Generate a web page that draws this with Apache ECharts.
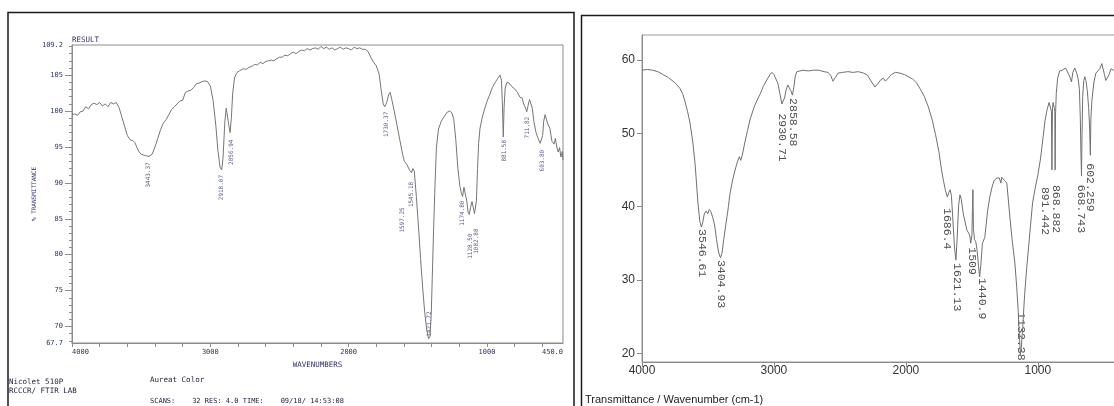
<!DOCTYPE html>
<html><head><meta charset="utf-8">
<script src="https://cdn.jsdelivr.net/npm/echarts@6/dist/echarts.min.js"></script>
<style>html,body{margin:0;padding:0;background:#fff}#c{width:1114px;height:406px}</style>
</head><body><div id="c"></div><script>
// ---------- LEFT SPECTRUM (Nicolet 510P) ----------
const leftWn = [4000,3980,3960,3940,3920,3900,3880,3860,3840,3820,3800,3780,3760,3740,3720,3700,3680,3660,3640,3620,3600,3580,3560,3545,3530,3515,3500,3470,3443,3420,3400,3380,3360,3340,3320,3300,3280,3260,3240,3220,3200,3180,3160,3140,3120,3100,3080,3060,3040,3020,3000,2980,2960,2945,2930,2918,2908,2895,2885,2875,2866,2857,2848,2838,2825,2810,2790,2760,2740,2720,2700,2680,2660,2640,2620,2600,2580,2560,2540,2520,2500,2480,2460,2440,2420,2400,2380,2360,2340,2320,2300,2280,2260,2240,2220,2200,2180,2160,2140,2120,2100,2080,2060,2040,2020,2000,1980,1960,1940,1920,1900,1880,1860,1840,1820,1800,1780,1765,1750,1738,1725,1710,1700,1690,1670,1650,1630,1610,1597,1580,1560,1545,1535,1525,1510,1495,1480,1465,1450,1435,1422,1412,1403,1395,1385,1375,1365,1350,1330,1310,1290,1270,1255,1240,1225,1210,1195,1185,1176,1166,1156,1146,1136,1128,1118,1108,1098,1090,1083,1076,1068,1060,1050,1035,1020,1000,980,960,940,920,905,895,888,882,876,868,855,840,820,800,780,760,745,735,725,712,702,692,682,672,660,645,630,615,604,597,590,580,570,560,545,530,515,505,495,485,475,465,455,450];
const leftT  = [99.5,99.6,99.4,99.9,100.0,100.6,100.3,100.9,101.1,100.9,101.2,100.7,101.0,100.6,101.2,101.0,101.2,100.5,99.2,97.9,96.6,96.0,95.9,95.6,94.9,94.3,94.0,93.8,93.7,94.0,95.0,96.2,97.4,98.3,98.8,99.5,100.2,100.6,101.0,101.4,101.5,102.6,102.8,102.9,103.3,103.8,103.9,104.1,104.2,104.1,103.5,101.5,98.0,94.5,92.2,91.8,93.5,98.5,100.4,100.3,98.0,97.0,99.0,102.5,104.6,105.3,105.6,105.9,105.8,106.1,106.2,106.5,106.4,106.8,106.6,106.9,107.0,107.1,107.0,107.3,107.5,107.5,107.8,107.7,108.0,108.2,108.0,108.3,108.5,108.4,108.7,108.5,108.7,108.8,108.6,109.0,108.7,108.9,108.6,108.8,108.5,108.7,108.9,108.6,108.8,108.7,108.5,108.9,108.7,108.8,108.6,108.6,108.3,107.5,106.8,106.3,105.2,103.0,101.0,100.6,101.2,102.3,102.6,101.8,100.0,98.0,96.0,94.0,93.0,92.6,91.8,91.4,92.0,91.6,88.0,84.0,79.5,75.5,72.0,69.5,68.3,68.6,71.5,77.0,84.0,90.0,95.0,97.5,98.6,99.2,99.8,100.0,99.8,98.9,96.0,92.0,89.5,88.6,88.1,89.4,89.6,87.5,85.9,85.6,86.6,87.4,86.5,85.7,85.6,87.5,92.0,95.5,97.6,99.0,100.1,101.3,102.3,103.3,104.0,104.6,105.0,104.3,101.0,96.4,100.5,103.2,104.0,103.9,103.4,103.1,102.6,101.9,101.8,101.0,100.6,99.9,100.8,101.6,101.6,100.4,98.5,97.0,96.2,95.5,95.3,96.6,98.5,99.5,99.3,98.2,97.6,95.8,95.4,96.2,95.0,94.3,94.9,93.6,94.4,93.2];
const leftPeakWn  = [3443.37,2918.07,2856.94,1730.37,1597.25,1545.18,1421.72,1174.80,1128.50,1082.88,881.58,711.82,603.80];
const leftPeakT   = [93.7,91.8,97.0,100.6,93.0,91.4,68.3,88.1,85.6,85.6,96.4,99.9,95.3];
const leftPeakText= ['3443.37','2918.07','2856.94','1730.37','1597.25','1545.18','1421.72','1174.80','1128.50','1082.88','881.58','711.82','603.80'];
const leftXTickVals = [4000,3800,3600,3400,3200,3000,2800,2600,2400,2200,2000,1800,1600,1400,1200,1000,800,600];
const leftXLabelVals = [4000,3000,2000,1000,450];
const leftYLabelVals = [67.7,70,75,80,85,90,95,100,105,109.2];
const leftYMinorVals = [68,69,70,71,72,73,74,75,76,77,78,79,80,81,82,83,84,85,86,87,88,89,90,91,92,93,94,95,96,97,98,99,100,101,102,103,104,105,106,107,108,109];

// ---------- RIGHT SPECTRUM ----------
const rightWn = [4000,3960,3920,3880,3840,3800,3765,3740,3712,3690,3674,3655,3636,3615,3598,3587,3576,3562,3550,3540,3528,3515,3502,3490,3478,3465,3450,3435,3420,3405,3394,3380,3365,3356,3345,3333,3310,3290,3275,3262,3252,3240,3220,3200,3182,3150,3120,3106,3080,3050,3030,3015,3000,2985,2970,2955,2940,2931,2920,2908,2895,2885,2872,2860,2850,2838,2826,2780,2740,2700,2660,2620,2590,2570,2553,2535,2515,2480,2440,2400,2360,2320,2290,2260,2235,2215,2190,2170,2155,2140,2110,2080,2045,2010,1980,1950,1920,1890,1860,1830,1800,1775,1750,1730,1715,1700,1686,1675,1665,1655,1645,1632,1621,1612,1600,1590,1580,1565,1550,1538,1525,1515,1509,1500,1495,1492,1488,1480,1470,1460,1450,1441,1432,1420,1402,1380,1364,1345,1330,1310,1292,1280,1273,1255,1235,1212,1195,1174,1160,1148,1140,1132,1125,1115,1100,1085,1070,1055,1040,1020,1000,980,960,945,930,915,905,897,893,889,884,876,871,869,866,860,850,835,815,800,790,775,760,745,735,720,705,695,685,678,673,669,665,660,652,644,636,625,615,608,602,598,590,575,560,545,530,515,505,495,485,472,460,445,432,420,400];
const rightT  = [58.6,58.7,58.6,58.4,58.0,57.6,57.1,56.7,56.1,55.3,54.3,53.0,51.4,48.8,45.9,43.2,40.5,38.0,37.2,37.8,39.0,39.4,39.0,39.6,39.3,38.6,37.5,35.5,33.8,33.0,33.6,35.6,37.5,38.6,40.0,41.8,43.9,45.3,46.2,46.8,46.3,47.0,48.8,50.4,51.8,53.6,54.8,55.3,56.4,57.4,58.0,58.3,58.0,57.4,56.8,55.4,54.0,53.8,54.8,55.9,56.6,56.5,55.8,55.2,56.2,57.8,58.4,58.6,58.5,58.6,58.6,58.4,58.3,57.9,57.1,57.6,58.2,58.3,58.4,58.3,58.4,58.2,57.9,57.0,56.3,56.7,57.3,57.5,57.1,57.4,58.0,58.3,58.2,58.0,57.7,57.4,56.9,56.0,55.0,53.6,51.8,49.8,47.5,45.0,43.5,42.2,41.3,41.9,42.3,41.5,38.5,34.5,32.7,35.5,40.2,41.6,41.0,39.0,37.8,36.8,36.4,36.0,35.0,36.0,40.0,42.3,37.0,35.5,35.2,34.0,32.0,30.4,32.0,35.0,35.8,39.5,41.3,42.8,43.6,43.9,43.9,43.2,44.0,43.6,43.2,38.6,35.5,32.3,29.0,25.5,22.5,19.8,20.8,23.5,28.0,31.5,34.5,37.5,40.5,42.5,44.3,46.5,49.5,51.8,53.2,54.2,54.4,53.0,45.0,53.5,54.2,54.1,53.0,45.0,52.5,55.5,57.5,58.5,58.6,58.4,58.9,58.7,57.8,57.0,58.3,58.9,58.2,57.5,56.0,52.0,47.0,44.2,50.0,55.0,57.2,57.7,57.2,55.8,53.5,51.0,47.0,52.0,54.5,57.0,58.2,58.3,58.8,59.5,59.3,58.0,57.2,57.3,58.0,58.8,58.9,58.5,58.3];
const rightPeakWn  = [3546.61,3404.93,2930.71,2858.58,1686.4,1621.13,1509,1440.9,1132.38,891.442,868.882,668.743,602.259];
const rightPeakT   = [37.2,33.0,53.8,55.2,41.3,32.7,35.0,30.4,19.8,45.0,45.0,44.2,47.0];
const rightPeakText= ['3546.61','3404.93','2930.71','2858.58','1686.4','1621.13','1509','1440.9','1132.38','891.442','868.882','668.743','602.259'];
const rightXLabelVals = [4000,3000,2000,1000];
const rightYLabelVals = [20,30,40,50,60];

// ---------- styling (label placement in px, not data) ----------
const navy = '#2e3366';
const mono = 'DejaVu Sans Mono';
const leftLabelPlace = [[6,-1],[5,0],[7,1],[5,1],[46,-2],[9,0],[-2,1],[4,0],[19,1],[14,1],[3,1],[5,1],[5,1]]; // [down px, right px]
const leftLabelUp = [false,false,false,false,false,false,true,false,false,false,false,false,false];
const rightLabelPlace = [[2,0],[2,1],[8,-1],[3,0],[11,0],[3,1],[4,1],[1,2],[6,1],[17,-7],[15,1],[9,0],[8,0]];
const rightLabelUp = [false,false,false,false,false,false,false,false,true,false,false,false,false];

const leftData = leftWn.map((w,i)=>[w,leftT[i]]);
const rightData = rightWn.map((w,i)=>[w,rightT[i]]);

const leftLabels = leftPeakWn.map((w,i)=>{
  const [dy,dx] = leftLabelPlace[i];
  return {value:[w,leftPeakT[i]], label:{show:true, position:'inside', rotate:90,
    align:leftLabelUp[i]?'left':'right', verticalAlign:'middle',
    offset:[-dy, dx], formatter:leftPeakText[i], fontFamily:mono, fontSize:6, color:navy}};
});
const rightLabels = rightPeakWn.map((w,i)=>{
  const [dy,dx] = rightLabelPlace[i];
  return {value:[w,rightPeakT[i]], label:{show:true, position:'inside', rotate:-90,
    align:rightLabelUp[i]?'right':'left', verticalAlign:'middle',
    offset:[dy, -dx], formatter:rightPeakText[i], fontFamily:'Liberation Mono', fontSize:11.5, color:'#222'}};
});

const chart = echarts.init(document.getElementById('c'), null, {renderer:'canvas'});
const lAxisCol = '#8c8c8c';
chart.setOption({
  animation:false,
  backgroundColor:'#ffffff',
  grid:[
    {left:72, top:45, width:491, height:298, show:true, borderColor:lAxisCol, borderWidth:1, backgroundColor:'transparent', outerBoundsMode:'none'},
    {left:642, top:35, right:-3, height:327, show:true, borderColor:'#9a9a9a', borderWidth:1, backgroundColor:'transparent', outerBoundsMode:'none'}
  ],
  xAxis:[
    {type:'value', gridIndex:0, min:450, max:4000, inverse:true,
     axisLine:{show:true, lineStyle:{color:lAxisCol}}, splitLine:{show:false},
     axisTick:{show:true, customValues:leftXTickVals, length:4, lineStyle:{color:lAxisCol}},
     axisLabel:{customValues:leftXLabelVals, margin:6, fontFamily:mono, fontSize:7, color:navy,
       formatter:v=> v===4000 ? '{a|4000}' : (v===450 ? '{b|450.0}' : String(v)),
       rich:{a:{padding:[0,0,0,17], fontFamily:mono, fontSize:7, color:navy},
             b:{padding:[0,21,0,0], fontFamily:mono, fontSize:7, color:navy}}},
     name:'WAVENUMBERS', nameLocation:'middle', nameGap:14,
     nameTextStyle:{fontFamily:mono, fontSize:7.5, color:navy}},
    {type:'value', gridIndex:1, min:400, max:4000, inverse:true,
     axisLine:{show:true, lineStyle:{color:'#8a8a8a'}}, splitLine:{show:false},
     axisTick:{show:true, customValues:rightXLabelVals, length:5, lineStyle:{color:'#8a8a8a'}},
     axisLabel:{customValues:rightXLabelVals, margin:3, fontFamily:'Liberation Sans', fontSize:12, color:'#333',
       formatter:v=>String(v)}}
  ],
  yAxis:[
    {type:'value', gridIndex:0, min:67.7, max:109.2,
     axisLine:{show:true, lineStyle:{color:lAxisCol}}, splitLine:{show:false},
     axisTick:{show:true, customValues:[70,75,80,85,90,95,100,105], length:7, lineStyle:{color:lAxisCol}},
     axisLabel:{customValues:leftYLabelVals, margin:9, fontFamily:mono, fontSize:7, color:navy,
       formatter:v=>String(Math.round(v*10)/10)},
     name:'% TRANSMITTANCE', nameLocation:'middle', nameGap:35, nameRotate:90,
     nameTextStyle:{fontFamily:mono, fontSize:6, color:navy}},
    {type:'value', gridIndex:0, min:67.7, max:109.2, position:'left',
     axisLine:{show:false}, splitLine:{show:false}, axisLabel:{show:false},
     axisTick:{show:true, customValues:leftYMinorVals, length:3, lineStyle:{color:lAxisCol}}},
    {type:'value', gridIndex:1, min:18.8, max:63.4,
     axisLine:{show:true, lineStyle:{color:'#8a8a8a'}}, splitLine:{show:false},
     axisTick:{show:true, customValues:rightYLabelVals, length:5, lineStyle:{color:'#8a8a8a'}},
     axisLabel:{customValues:rightYLabelVals, margin:7, fontFamily:'Liberation Sans', fontSize:12, color:'#333',
       formatter:v=>String(v)}}
  ],
  series:[
    {type:'line', xAxisIndex:0, yAxisIndex:0, data:leftData, showSymbol:false, silent:true,
     lineStyle:{color:'#767676', width:1}},
    {type:'scatter', xAxisIndex:0, yAxisIndex:0, data:leftLabels, symbolSize:0, silent:true},
    {type:'line', xAxisIndex:1, yAxisIndex:2, data:rightData, showSymbol:false, silent:true,
     lineStyle:{color:'#707070', width:1}},
    {type:'scatter', xAxisIndex:1, yAxisIndex:2, data:rightLabels, symbolSize:0, silent:true}
  ],
  graphic:[
    {type:'rect', shape:{x:8, y:12.5, width:566, height:420}, style:{fill:'none', stroke:'#1a1a1a', lineWidth:1.5}, silent:true},
    {type:'rect', shape:{x:581.5, y:15.5, width:600, height:420}, style:{fill:'none', stroke:'#1a1a1a', lineWidth:1.5}, silent:true},
    {type:'text', x:72, y:40, style:{text:'RESULT', fontFamily:mono, fontSize:7.5, fill:navy, textVerticalAlign:'middle'}, silent:true},
    {type:'text', x:9, y:382, style:{text:'Nicolet 510P', fontFamily:mono, fontSize:7.5, fill:'#1d1f3a', textVerticalAlign:'middle'}, silent:true},
    {type:'text', x:9, y:391, style:{text:'RCCCR/ FTIR LAB', fontFamily:mono, fontSize:7.5, fill:'#1d1f3a', textVerticalAlign:'middle'}, silent:true},
    {type:'text', x:150, y:380, style:{text:'Aureat Color', fontFamily:mono, fontSize:7.5, fill:'#1d1f3a', textVerticalAlign:'middle'}, silent:true},
    {type:'text', x:150, y:401, style:{text:'SCANS:    32 RES: 4.0 TIME:    09/18/ 14:53:08', fontFamily:mono, fontSize:7, fill:'#1d1f3a', textVerticalAlign:'middle'}, silent:true},
    {type:'text', x:585, y:400, style:{text:'Transmittance / Wavenumber (cm-1)', fontFamily:'Liberation Sans', fontSize:11, fill:'#222', textVerticalAlign:'middle'}, silent:true}
  ]
});
</script></body></html>
